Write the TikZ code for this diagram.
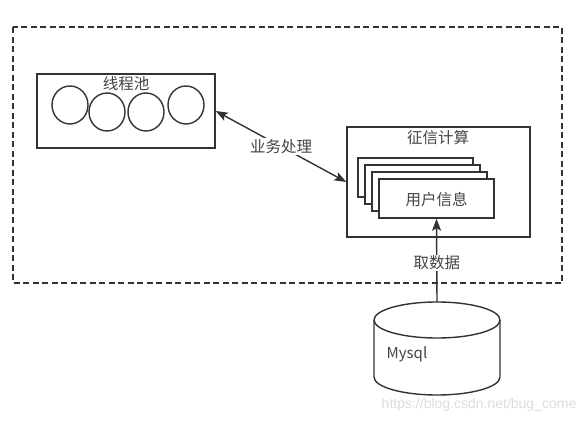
\documentclass[tikz,border=0pt]{standalone}
\usepackage{fontspec}
\setmainfont{Noto Sans CJK SC}
\newfontfamily\wmfont{Liberation Sans}
\usetikzlibrary{arrows.meta,shapes.geometric}
\definecolor{ink}{HTML}{333333}
\definecolor{txt}{HTML}{444444}
\definecolor{wm}{HTML}{DDDDDD}
\begin{document}
\begin{tikzpicture}[x=1pt,y=-1pt,
  line width=1.4pt, draw=ink,
  box/.style={draw=ink, rectangle, inner sep=0pt, line width=1.4pt},
  card/.style={box, fill=white, minimum width=115pt, minimum height=39pt},
  ball/.style={draw=ink, ellipse, inner sep=0pt, minimum width=36pt, minimum height=38pt, line width=1.4pt},
  lbl/.style={text=txt, font=\fontsize{15.5}{18}\selectfont, inner sep=1pt},
  tip/.style={-{Stealth[length=12pt,width=9pt,inset=2.5pt]}},
  tips/.style={{Stealth[length=12pt,width=9pt,inset=2.5pt]}-{Stealth[length=12pt,width=9pt,inset=2.5pt]}}
]
\useasboundingbox (0,0) rectangle (586,423);
\fill[white] (0,0) rectangle (586,423);
% dashed frame
\draw[ink, dash pattern=on 6pt off 3.5pt] (13,27) rectangle (562,283);
% thread pool
\node[box, minimum width=178pt, minimum height=74pt] (pool) at (126,111) {};
\node[lbl] (pooltitle) at (126,84) {线程池};
\node[ball] (b1) at (70,105) {};
\node[ball] (b2) at (107,112) {};
\node[ball] (b3) at (146,112) {};
\node[ball] (b4) at (186,105) {};
% credit computation
\node[box, minimum width=183pt, minimum height=110pt] (credit) at (438.5,182) {};
\node[lbl] (credittitle) at (438,138) {征信计算};
\node[card] (c1) at (415.5,177.5) {};
\node[card] (c2) at (422.5,184.5) {};
\node[card] (c3) at (429.5,191.5) {};
\node[card] (c4) at (436.5,198.5) {};
\node[lbl] (user) at (436.5,200) {用户信息};
% database
\fill[white] (374,320) -- (374,377) arc[start angle=180,end angle=0,x radius=63,y radius=18] -- (500,320) arc[start angle=0,end angle=-180,x radius=63,y radius=18] -- cycle;
\draw[ink] (374,320) -- (374,377) arc[start angle=180,end angle=0,x radius=63,y radius=18] -- (500,320);
\draw[ink] (437,320) ellipse[x radius=63, y radius=18];
\coordinate (dbtop) at (437,302);
\node[lbl, anchor=west, font=\fontsize{15}{18}\selectfont] (mysql) at (385,354) {Mysql};
% connectors
\draw[ink, tips] (pool.east) -- node[lbl, fill=white] (biz) {业务处理} (credit.west);
\draw[ink, tip] (dbtop) -- node[lbl, fill=white, pos=0.47] (fetch) {取数据} (c4.south);
% watermark
\node[text=wm, font=\wmfont\fontsize{14}{16}\selectfont, anchor=east, inner sep=0pt] (wmark) at (577,405) {https://blog.csdn.net/bug\_come};
\end{tikzpicture}
\end{document}
